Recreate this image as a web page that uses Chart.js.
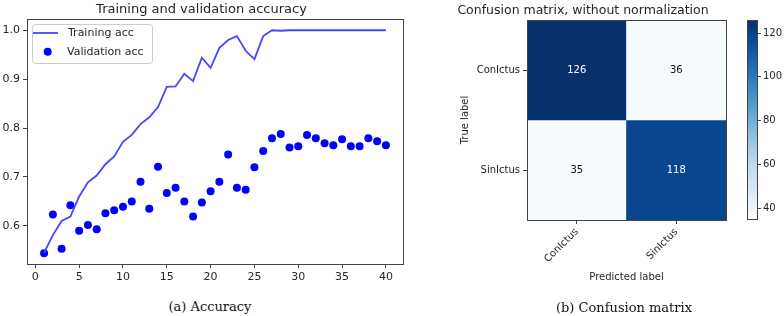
<!DOCTYPE html>
<html>
<head>
<meta charset="utf-8">
<script src="https://cdn.jsdelivr.net/npm/chart.js@4.4.1/dist/chart.umd.min.js"></script>
<style>
    body { margin: 0; width: 784px; height: 316px; background: #fff; position: relative; overflow: hidden; }
    canvas { position: absolute; }
    .caption { position: absolute; font-family: 'DejaVu Serif', serif; font-size: 13px; color: #111; transform: translate(-50%, -50%); white-space: nowrap; }
</style>
</head>
<body>
<canvas id="accChart" width="410" height="290" style="left:0;top:0"></canvas>
<canvas id="cmChart" width="300" height="300" style="left:440px;top:0"></canvas>
<canvas id="cbarChart" width="44" height="300" style="left:740px;top:0"></canvas>
<div class="caption" style="left:210px;top:306px">(a) Accuracy</div>
<div class="caption" style="left:624px;top:307px">(b) Confusion matrix</div>
<script>
// Accuracy per epoch
const epochs = [1, 2, 3, 4, 5, 6, 7, 8, 9, 10, 11, 12, 13, 14, 15, 16, 17, 18, 19, 20,
                21, 22, 23, 24, 25, 26, 27, 28, 29, 30, 31, 32, 33, 34, 35, 36, 37, 38, 39, 40];
const trainAcc = [0.545, 0.581, 0.610, 0.619, 0.660, 0.689, 0.703, 0.726, 0.742, 0.772,
                  0.786, 0.808, 0.822, 0.843, 0.884, 0.885, 0.911, 0.896, 0.944, 0.923,
                  0.964, 0.980, 0.988, 0.958, 0.941, 0.988, 1.0, 0.999, 1.0, 1.0,
                  1.0, 1.0, 1.0, 1.0, 1.0, 1.0, 1.0, 1.0, 1.0, 1.0];
const valAcc = [0.544, 0.623, 0.553, 0.642, 0.590, 0.602, 0.593, 0.626, 0.632, 0.639,
                0.650, 0.690, 0.635, 0.721, 0.667, 0.678, 0.650, 0.619, 0.648, 0.671,
                0.690, 0.746, 0.678, 0.674, 0.720, 0.753, 0.779, 0.788, 0.760, 0.763,
                0.786, 0.779, 0.769, 0.765, 0.777, 0.763, 0.763, 0.779, 0.773, 0.765];

// Confusion matrix (rows = true label, cols = predicted label)
const predictedLabels = ['ConIctus', 'SinIctus'];
const trueLabels = ['ConIctus', 'SinIctus'];
const confusion = [[126, 36], [35, 118]];
const colorbarTicks = [40, 60, 80, 100, 120];

// matplotlib "Blues" colormap stops
const blues = ['#f7fbff', '#deebf7', '#c6dbef', '#9ecae1', '#6baed6', '#4292c6', '#2171b5', '#08519c', '#08306b'];

const textColor = '#262626';
const spineColor = '#444';

function hexToRgb(h) {
    return [parseInt(h.slice(1, 3), 16), parseInt(h.slice(3, 5), 16), parseInt(h.slice(5, 7), 16)];
}

function bluesAt(t) {
    t = Math.max(0, Math.min(1, t));
    const pos = t * (blues.length - 1);
    const i = Math.min(Math.floor(pos), blues.length - 2);
    const f = pos - i;
    const a = hexToRgb(blues[i]), b = hexToRgb(blues[i + 1]);
    const c = a.map((v, k) => Math.round(v + (b[k] - v) * f));
    return `rgb(${c[0]},${c[1]},${c[2]})`;
}

const flat = confusion.flat();
const vmin = Math.min(...flat);
const vmax = Math.max(...flat);

// Frame around the plotting area (all four spines)
const boxPlugin = {
    id: 'box',
    afterDatasetsDraw(chart) {
        const {ctx, chartArea: a} = chart;
        ctx.save();
        ctx.strokeStyle = spineColor;
        ctx.lineWidth = 1;
        ctx.strokeRect(Math.round(a.left) + 0.5, Math.round(a.top) + 0.5,
                       Math.round(a.right - a.left), Math.round(a.bottom - a.top));
        ctx.restore();
    }
};

// Legend drawn inside the upper-left corner, like matplotlib
const insideLegend = {
    id: 'insideLegend',
    afterDraw(chart) {
        const {ctx, chartArea: a} = chart;
        const ds = chart.data.datasets;
        const x = Math.round(a.left) + 5, y = Math.round(a.top) + 5, w = 120, h = 39;
        ctx.save();
        ctx.fillStyle = 'rgba(255,255,255,0.8)';
        ctx.strokeStyle = '#cccccc';
        ctx.lineWidth = 1;
        ctx.beginPath();
        if (ctx.roundRect) ctx.roundRect(x + 0.5, y + 0.5, w, h, 3); else ctx.rect(x + 0.5, y + 0.5, w, h);
        ctx.fill();
        ctx.stroke();

        ctx.font = '11px "DejaVu Sans"';
        ctx.textBaseline = 'middle';
        ctx.strokeStyle = ds[0].borderColor;
        ctx.lineWidth = ds[0].borderWidth;
        ctx.beginPath();
        ctx.moveTo(x + 1, y + 9);
        ctx.lineTo(x + 26, y + 9);
        ctx.stroke();
        ctx.fillStyle = textColor;
        ctx.fillText(ds[0].label, x + 36, y + 9);

        ctx.fillStyle = ds[1].backgroundColor;
        ctx.beginPath();
        ctx.arc(x + 15.7, y + 27.7, 4, 0, Math.PI * 2);
        ctx.fill();
        ctx.fillStyle = textColor;
        ctx.fillText(ds[1].label, x + 35, y + 28);
        ctx.restore();
    }
};

const tickGrid = {display: true, drawOnChartArea: false, drawTicks: true, tickLength: 4, color: spineColor};

new Chart(document.getElementById('accChart'), {
    type: 'scatter',
    data: {
        datasets: [
            {
                label: 'Training acc',
                data: epochs.map((e, i) => ({x: e, y: trainAcc[i]})),
                showLine: true,
                borderColor: '#4646ff',
                borderWidth: 1.8,
                pointRadius: 0,
                tension: 0
            },
            {
                label: 'Validation acc',
                data: epochs.map((e, i) => ({x: e, y: valAcc[i]})),
                backgroundColor: '#0000ff',
                borderWidth: 0,
                pointRadius: 4
            }
        ]
    },
    options: {
        responsive: false,
        animation: false,
        layout: {padding: {right: 7, left: 0}},
        plugins: {
            legend: {display: false},
            tooltip: {enabled: false},
            title: {
                display: true,
                text: 'Training and validation accuracy',
                color: textColor,
                font: {family: "'DejaVu Sans'", size: 13, weight: 'normal', lineHeight: 1.2},
                padding: {top: 2, bottom: 1.4}
            }
        },
        scales: {
            x: {
                type: 'linear',
                min: -0.95,
                max: 41.95,
                grid: tickGrid,
                border: {display: false},
                ticks: {stepSize: 5, includeBounds: false, padding: 3, color: textColor,
                        font: {family: "'DejaVu Sans'", size: 11}},
                afterFit: s => { s.height = 26; }
            },
            y: {
                min: 0.522,
                max: 1.023,
                grid: tickGrid,
                border: {display: false},
                ticks: {stepSize: 0.1, includeBounds: false, padding: 3, color: textColor,
                        font: {family: "'DejaVu Sans'", size: 11},
                        callback: v => v.toFixed(1)},
                afterFit: s => { s.width = 27; }
            }
        }
    },
    plugins: [boxPlugin, insideLegend]
});

// Numbers inside the confusion matrix cells
const cellText = {
    id: 'cellText',
    afterDatasetsDraw(chart) {
        const {ctx} = chart;
        const thresh = vmax / 2;
        ctx.save();
        ctx.font = '10px "DejaVu Sans"';
        ctx.textAlign = 'center';
        ctx.textBaseline = 'middle';
        chart.data.datasets.forEach((ds, r) => {
            chart.getDatasetMeta(r).data.forEach((bar, c) => {
                const v = confusion[r][c];
                ctx.fillStyle = v > thresh ? '#ffffff' : '#111111';
                ctx.fillText(String(v), bar.x, (bar.y + bar.base) / 2);
            });
        });
        ctx.restore();
    }
};

new Chart(document.getElementById('cmChart'), {
    type: 'bar',
    data: {
        labels: predictedLabels,
        datasets: trueLabels.map((lab, r) => ({
            label: lab,
            data: predictedLabels.map(() => [trueLabels.length - r - 1, trueLabels.length - r]),
            backgroundColor: confusion[r].map(v => bluesAt((v - vmin) / (vmax - vmin))),
            borderWidth: 0,
            grouped: false,
            barPercentage: 1,
            categoryPercentage: 1
        }))
    },
    options: {
        responsive: false,
        animation: false,
        layout: {padding: {right: 14}},
        plugins: {
            legend: {display: false},
            tooltip: {enabled: false},
            title: {
                display: true,
                text: 'Confusion matrix, without normalization',
                color: textColor,
                font: {family: "'DejaVu Sans'", size: 12.5, weight: 'normal', lineHeight: 1.2},
                padding: {top: 3, bottom: 2}
            }
        },
        scales: {
            x: {
                grid: Object.assign({offset: false}, tickGrid),
                border: {display: false},
                ticks: {minRotation: 45, maxRotation: 45, padding: 2, color: textColor,
                        font: {family: "'DejaVu Sans'", size: 10}},
                title: {display: true, text: 'Predicted label', color: textColor,
                        font: {family: "'DejaVu Sans'", size: 10}, padding: {top: 0, bottom: 17}},
                afterFit: s => { s.height = 80; }
            },
            y: {
                min: 0,
                max: trueLabels.length,
                grid: tickGrid,
                border: {display: false},
                afterBuildTicks: s => {
                    s.ticks = trueLabels.map((l, i) => ({value: trueLabels.length - i - 0.5}));
                },
                ticks: {padding: 3, color: textColor, font: {family: "'DejaVu Sans'", size: 10},
                        callback: v => trueLabels[Math.round(trueLabels.length - 0.5 - v)]},
                title: {display: true, text: 'True label', color: textColor,
                        font: {family: "'DejaVu Sans'", size: 10}, padding: {top: 19, bottom: 0}},
                afterFit: s => { s.width = 87; }
            }
        }
    },
    plugins: [cellText, boxPlugin]
});

// Colorbar as a single floating bar filled with the colormap
new Chart(document.getElementById('cbarChart'), {
    type: 'bar',
    data: {
        labels: [''],
        datasets: [{
            data: [[vmin, vmax]],
            backgroundColor: ctx => {
                const area = ctx.chart.chartArea;
                if (!area) return blues[0];
                const g = ctx.chart.ctx.createLinearGradient(0, area.bottom, 0, area.top);
                blues.forEach((c, i) => g.addColorStop(i / (blues.length - 1), c));
                return g;
            },
            borderWidth: 0,
            barPercentage: 1,
            categoryPercentage: 1
        }]
    },
    options: {
        responsive: false,
        animation: false,
        layout: {padding: {left: 7, top: 20, bottom: 0}},
        plugins: {legend: {display: false}, tooltip: {enabled: false}},
        scales: {
            x: {display: false, afterFit: s => { s.height = 81; }},
            y: {
                position: 'right',
                min: vmin,
                max: vmax,
                grid: tickGrid,
                border: {display: false},
                afterBuildTicks: s => { s.ticks = colorbarTicks.map(v => ({value: v})); },
                ticks: {padding: 2, color: textColor, font: {family: "'DejaVu Sans'", size: 10}},
                afterFit: s => { s.width = 27; }
            }
        }
    },
    plugins: [boxPlugin]
});
</script>
</body>
</html>
